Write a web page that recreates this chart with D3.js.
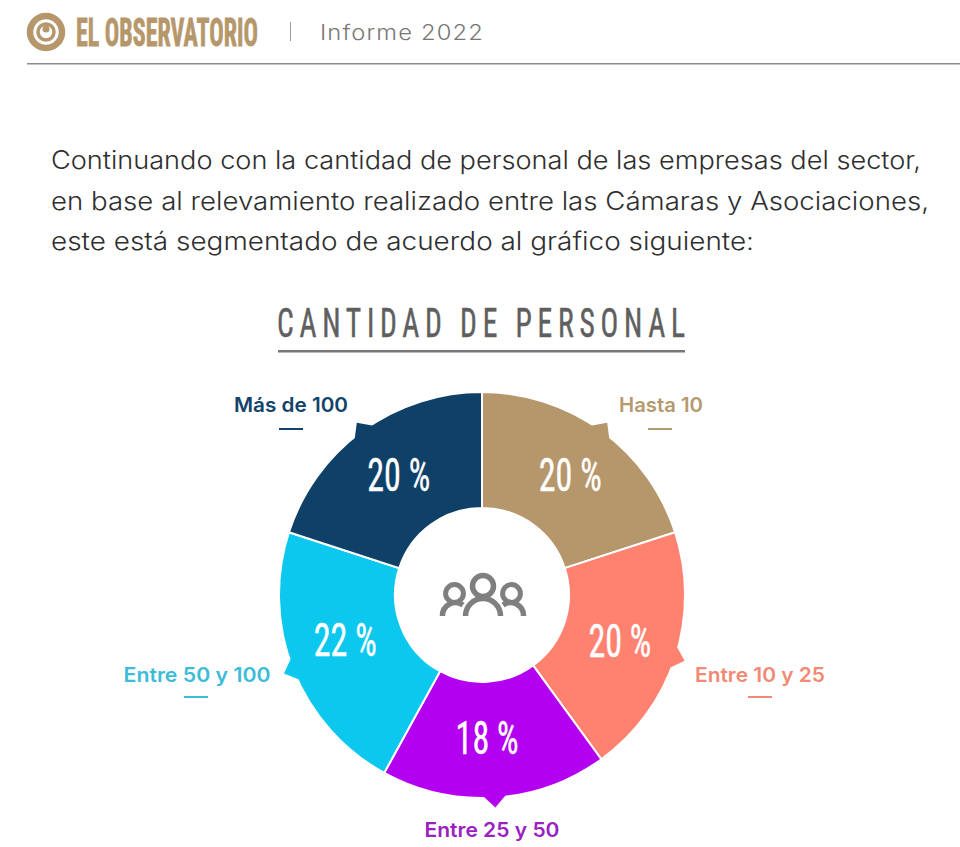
<!DOCTYPE html>
<html><head><meta charset="utf-8">
<script src="https://cdn.jsdelivr.net/npm/d3@7"></script>
<style>html,body{margin:0;background:#fff}svg{display:block}</style></head>
<body><svg id="c" width="960" height="847"></svg>
<script>
const categories = ["Hasta 10","Entre 10 y 25","Entre 25 y 50","Entre 50 y 100","Más de 100"];
const values = [20,20,18,22,20];
const valueLabels = ["20 %","20 %","18 %","22 %","20 %"];
const sliceColors = ["#b5976b","#ff8170","#b400f0","#0cc8ee","#0f4068"];
const labelColors = ["#b59a70","#f08a75","#9a22c0","#3cbcd8","#12436a"];
const bodyLines = ["Continuando con la cantidad de personal de las empresas del sector,",
  "en base al relevamiento realizado entre las Cámaras y Asociaciones,",
  "este está segmentado de acuerdo al gráfico siguiente:"];
const chartTitle = "CANTIDAD DE PERSONAL";

const svg = d3.select("#c");
const SANS = "Inter,'Open Sans','Noto Sans',sans-serif";
const COND = "'Liberation Sans Narrow','Roboto Condensed','Liberation Sans',sans-serif";
const fit = (sel,w)=>sel.attr("textLength",w).attr("lengthAdjust","spacingAndGlyphs");
// squeeze a text to a width by scaling it, from its measured natural length
const squeeze=(sel,x,y,w)=>{const n=sel.node().getComputedTextLength();
  sel.attr("transform",`translate(${x},${y}) scale(${w/n},1)`);};

// header
const gold="#b5976b";
const logo=svg.append("g").attr("transform","translate(46,32)");
logo.append("circle").attr("r",16).attr("fill","none").attr("stroke",gold).attr("stroke-width",6.5);
logo.append("circle").attr("r",8).attr("fill","none").attr("stroke",gold).attr("stroke-width",3.5);
logo.append("circle").attr("cy",-3).attr("r",3.5).attr("fill",gold);
squeeze(svg.append("text").attr("font-family",COND).attr("font-weight",700)
  .attr("font-size",39).attr("fill",gold).attr("stroke",gold).attr("stroke-width",0.8).text("EL OBSERVATORIO"),76,46,182);
svg.append("rect").attr("x",290).attr("y",22).attr("width",1).attr("height",19).attr("fill","#999");
squeeze(svg.append("text").attr("font-family",SANS).attr("font-weight",300).attr("font-size",21)
  .attr("letter-spacing",1).attr("fill","#777").text("Informe 2022"),320,40,164);
svg.append("rect").attr("x",27).attr("y",63).attr("width",933).attr("height",1.5).attr("fill","#8c8c8c");

// paragraph
const bodyWidths=[870,878,703];
bodyLines.forEach((t,i)=>{
  fit(svg.append("text").attr("x",51).attr("y",169+i*40.5).attr("font-family",SANS).attr("font-weight",300)
    .attr("font-size",25).attr("fill","#2f2f2f").text(t),bodyWidths[i]);
});

// title: narrow glyphs, wide tracking
const titleScale=0.72;
svg.append("g").attr("transform",`translate(277,337) scale(${titleScale},1)`)
  .append("text").attr("font-family",COND).attr("font-size",41).attr("fill","#5f5f5f")
  .attr("stroke","#5f5f5f").attr("stroke-width",0.5)
  .attr("textLength",408/titleScale).attr("lengthAdjust","spacing").text(chartTitle);
svg.append("rect").attr("x",278).attr("y",350).attr("width",407).attr("height",2.5).attr("fill","#777");

// donut
const cx=482, cy=595, R=203, r0=87;
const pie=d3.pie().sort(null).value(d=>d)(values);
const arc=d3.arc().innerRadius(r0).outerRadius(R);
const g=svg.append("g").attr("transform",`translate(${cx},${cy})`);
const polar=(a,r)=>[r*Math.sin(a),-r*Math.cos(a)];
g.selectAll("path.s").data(pie).join("path").attr("class","s").attr("d",arc)
  .attr("fill",(d,i)=>sliceColors[i]).attr("stroke","#fff").attr("stroke-width",2);
g.selectAll("path.n").data(pie).join("path").attr("class","n")
  .attr("d",d=>{const m=(d.startAngle+d.endAngle)/2,w=0.058;
    return d3.line()([polar(m-w,R-2),polar(m,R+10),polar(m+w,R-2)])+"Z";})
  .attr("fill",(d,i)=>sliceColors[i]);
const nudge=[[3,-4],[0,0],[-4,-3],[-2,-9],[2,-4]];
g.selectAll("text.v").data(pie).join("text").attr("class","v")
  .attr("x",(d,i)=>arc.centroid(d)[0]+nudge[i][0]).attr("y",(d,i)=>arc.centroid(d)[1]+17+nudge[i][1])
  .attr("text-anchor","middle").attr("font-family",COND).attr("font-size",46).attr("fill","#fff")
  .attr("stroke","#fff").attr("stroke-width",0.4)
  .attr("textLength",63).attr("lengthAdjust","spacingAndGlyphs")
  .text((d,i)=>valueLabels[i]);

// category labels with their short dash
const labelLayout=[[179,-190,84],[278,80,130],[10,235,135],[-285,80,147],[-191,-190,114]];
const dashY=[24,22,null,22,24], dashDx=[-1,0,0,-1,0];
categories.forEach((c,i)=>{
  const [dx,dy,w]=labelLayout[i];
  fit(g.append("text").attr("x",dx).attr("y",dy+7).attr("text-anchor","middle").attr("font-family",SANS)
    .attr("font-weight",600).attr("font-size",20).attr("fill",labelColors[i]).text(c),w);
  if(dashY[i]!==null) g.append("rect").attr("x",dx+dashDx[i]-12).attr("y",dy+dashY[i]-1).attr("width",24).attr("height",2)
    .attr("fill",labelColors[i]);
});

// people icon
const ic=svg.append("g").attr("fill","none").attr("stroke","#7f7f7f");
ic.append("circle").attr("cx",483).attr("cy",586).attr("r",10.5).attr("stroke-width",5.5);
[[454.5,593.5],[511.5,593.5]].forEach(p=>ic.append("circle").attr("cx",p[0]).attr("cy",p[1]).attr("r",8.9).attr("stroke-width",5));
ic.append("path").attr("stroke-width",5.5).attr("d","M465.5 616 A17.5 17.5 0 0 1 500.5 616");
ic.append("path").attr("stroke-width",5.5).attr("d","M442.5 616 A13 13 0 0 1 463 605");
ic.append("path").attr("stroke-width",5.5).attr("d","M523.5 616 A13 13 0 0 0 503 605");
</script></body></html>
